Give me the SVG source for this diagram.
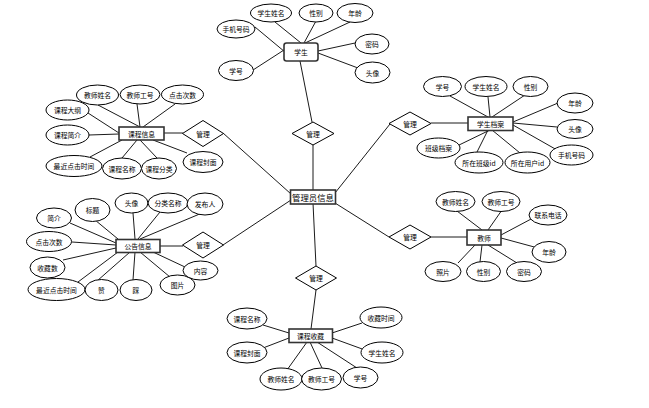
<svg xmlns="http://www.w3.org/2000/svg" width="649" height="408" viewBox="0 0 649 408">
<style>
text{font-family:"Noto Sans CJK SC","Noto Sans",sans-serif;font-size:6.8px;fill:#000;text-anchor:middle;dominant-baseline:central}
ellipse{fill:#fff;stroke:#000;stroke-width:1}
.ent{fill:#fff;stroke:#333;stroke-width:1.6}
.dia{fill:#fff;stroke:#000;stroke-width:1}
#links line{stroke:#000;stroke-width:0.9}
.big{font-size:8.4px}
</style>
<rect width="649" height="408" fill="#fff"/>
<g id="links">
<line x1="313" y1="145" x2="313" y2="190"/>
<line x1="300" y1="61" x2="312" y2="122"/>
<line x1="313" y1="203" x2="316" y2="266"/>
<line x1="316" y1="290" x2="311" y2="329"/>
<line x1="223" y1="133" x2="291" y2="194"/>
<line x1="164" y1="133" x2="183" y2="133"/>
<line x1="223" y1="245" x2="291" y2="200"/>
<line x1="160" y1="246" x2="183" y2="246"/>
<line x1="390" y1="124" x2="335" y2="193"/>
<line x1="431" y1="123" x2="468" y2="123"/>
<line x1="389" y1="237" x2="335" y2="203"/>
<line x1="431" y1="237" x2="467" y2="237"/>
<line x1="275" y1="22" x2="301" y2="43"/>
<line x1="316" y1="21" x2="304" y2="43"/>
<line x1="350" y1="22" x2="305" y2="43"/>
<line x1="255" y1="27" x2="285" y2="52"/>
<line x1="253" y1="70" x2="284" y2="50"/>
<line x1="355" y1="43" x2="318" y2="51"/>
<line x1="358" y1="68" x2="318" y2="53"/>
<line x1="98" y1="105" x2="140" y2="127"/>
<line x1="137" y1="104" x2="140" y2="127"/>
<line x1="175" y1="104" x2="143" y2="127"/>
<line x1="88" y1="113" x2="119" y2="133"/>
<line x1="89" y1="135" x2="119" y2="134"/>
<line x1="90" y1="157" x2="122" y2="140"/>
<line x1="122" y1="158" x2="137" y2="140"/>
<line x1="157" y1="158" x2="140" y2="140"/>
<line x1="187" y1="153" x2="153" y2="140"/>
<line x1="450" y1="96" x2="488" y2="117"/>
<line x1="488" y1="97" x2="490" y2="117"/>
<line x1="525" y1="95" x2="492" y2="117"/>
<line x1="558" y1="103" x2="513" y2="122"/>
<line x1="557" y1="127" x2="513" y2="123"/>
<line x1="557" y1="150" x2="513" y2="125"/>
<line x1="457" y1="146" x2="490" y2="130"/>
<line x1="477" y1="152" x2="488" y2="130"/>
<line x1="520" y1="153" x2="492" y2="130"/>
<line x1="70" y1="223" x2="116" y2="243"/>
<line x1="95" y1="220" x2="118" y2="239"/>
<line x1="133" y1="213" x2="135" y2="239"/>
<line x1="160" y1="212" x2="138" y2="239"/>
<line x1="202" y1="213" x2="140" y2="239"/>
<line x1="72" y1="242" x2="116" y2="245"/>
<line x1="63" y1="260" x2="116" y2="248"/>
<line x1="78" y1="282" x2="118" y2="252"/>
<line x1="97" y1="281" x2="130" y2="252"/>
<line x1="133" y1="280" x2="135" y2="252"/>
<line x1="170" y1="277" x2="140" y2="252"/>
<line x1="185" y1="267" x2="153" y2="252"/>
<line x1="457" y1="211" x2="482" y2="230"/>
<line x1="502" y1="210" x2="488" y2="230"/>
<line x1="533" y1="218" x2="501" y2="235"/>
<line x1="538" y1="248" x2="501" y2="238"/>
<line x1="458" y1="263" x2="475" y2="245"/>
<line x1="480" y1="262" x2="482" y2="245"/>
<line x1="517" y1="263" x2="488" y2="245"/>
<line x1="263" y1="325" x2="289" y2="333"/>
<line x1="263" y1="348" x2="289" y2="338"/>
<line x1="287" y1="370" x2="307" y2="342"/>
<line x1="322" y1="368" x2="310" y2="342"/>
<line x1="357" y1="368" x2="317" y2="342"/>
<line x1="362" y1="323" x2="332" y2="333"/>
<line x1="365" y1="350" x2="332" y2="338"/>
</g>

<g id="admin"><rect class="ent" x="290.5" y="190" width="45" height="14"/><text class="big" x="313" y="197">管理员信息</text></g>

<g id="rel-top"><polygon class="dia" points="313,122 334,133.5 313,145 292,133.5"/><text x="313" y="133.5">管理</text></g>
<g id="rel-bottom"><polygon class="dia" points="316,266 336.5,278 316,290 295.5,278"/><text x="316" y="278">管理</text></g>
<g id="rel-lt"><polygon class="dia" points="203,120.5 223.5,133.5 203,146.5 182.5,133.5"/><text x="203" y="133.5">管理</text></g>
<g id="rel-lb"><polygon class="dia" points="203,232 223.5,245 203,258 182.5,245"/><text x="203" y="245">管理</text></g>
<g id="rel-rt"><polygon class="dia" points="410,112 431,123.5 410,135 389,123.5"/><text x="410" y="123.5">管理</text></g>
<g id="rel-rb"><polygon class="dia" points="410,225 431,237 410,249 389,237"/><text x="410" y="237">管理</text></g>

<g id="student">
<rect class="ent" x="284" y="43" width="34" height="18" rx="2.5"/><text x="301" y="52">学生</text>
<ellipse cx="271" cy="13" rx="20.5" ry="9"/><text x="271" y="13">学生姓名</text>
<ellipse cx="316" cy="13" rx="17" ry="9"/><text x="316" y="13">性别</text>
<ellipse cx="355" cy="13" rx="18" ry="9.5"/><text x="355" y="13">年龄</text>
<ellipse cx="236" cy="29" rx="19" ry="9"/><text x="236" y="29">手机号码</text>
<ellipse cx="236" cy="70.5" rx="17.5" ry="10"/><text x="236" y="70.5">学号</text>
<ellipse cx="372" cy="44" rx="17" ry="10"/><text x="372" y="44">密码</text>
<ellipse cx="372.5" cy="72.5" rx="17.5" ry="10.5"/><text x="372.5" y="72.5">头像</text>
</g>

<g id="course">
<rect class="ent" x="119" y="127" width="45" height="13"/><text x="141.5" y="133.5">课程信息</text>
<ellipse cx="97.5" cy="95" rx="21" ry="10"/><text x="97.5" y="95">教师姓名</text>
<ellipse cx="140" cy="94.5" rx="20" ry="9.5"/><text x="140" y="94.5">教师工号</text>
<ellipse cx="182.5" cy="94.5" rx="21" ry="9.5"/><text x="182.5" y="94.5">点击次数</text>
<ellipse cx="67.5" cy="110" rx="21.5" ry="10"/><text x="67.5" y="110">课程大纲</text>
<ellipse cx="67.5" cy="135" rx="21.5" ry="10"/><text x="67.5" y="135">课程简介</text>
<ellipse cx="74" cy="166" rx="28" ry="10.5"/><text x="74" y="166">最近点击时间</text>
<ellipse cx="122" cy="168.5" rx="19.5" ry="10.5"/><text x="122" y="168.5">课程名称</text>
<ellipse cx="159" cy="168.5" rx="17.5" ry="10.5"/><text x="159" y="168.5">课程分类</text>
<ellipse cx="203" cy="162" rx="20" ry="10.5"/><text x="203" y="162">课程封面</text>
</g>

<g id="record">
<rect class="ent" x="468" y="117" width="45" height="13.5"/><text x="490.5" y="124">学生档案</text>
<ellipse cx="442.5" cy="86.5" rx="19" ry="10"/><text x="442.5" y="86.5">学号</text>
<ellipse cx="486" cy="86.5" rx="21" ry="10"/><text x="486" y="86.5">学生姓名</text>
<ellipse cx="530.5" cy="86.5" rx="17.5" ry="10"/><text x="530.5" y="86.5">性别</text>
<ellipse cx="575" cy="103" rx="18" ry="10"/><text x="575" y="103">年龄</text>
<ellipse cx="575" cy="129" rx="18" ry="9.5"/><text x="575" y="129">头像</text>
<ellipse cx="571.5" cy="155" rx="21.5" ry="10"/><text x="571.5" y="155">手机号码</text>
<ellipse cx="438.5" cy="148" rx="21.5" ry="10"/><text x="438.5" y="148">班级档案</text>
<ellipse cx="479" cy="162.5" rx="24" ry="10.5"/><text x="479" y="162.5">所在班级id</text>
<ellipse cx="527.5" cy="162.5" rx="22.5" ry="10.5"/><text x="527.5" y="162.5">所在用户id</text>
</g>

<g id="notice">
<rect class="ent" x="116" y="239.5" width="44" height="13"/><text x="138" y="246">公告信息</text>
<ellipse cx="54" cy="218" rx="17.5" ry="10"/><text x="54" y="218">简介</text>
<ellipse cx="92.5" cy="210" rx="17.5" ry="11.5"/><text x="92.5" y="210">标题</text>
<ellipse cx="131.5" cy="203" rx="16.5" ry="10"/><text x="131.5" y="203">头像</text>
<ellipse cx="168" cy="203" rx="20" ry="10"/><text x="168" y="203">分类名称</text>
<ellipse cx="205" cy="204" rx="18" ry="11"/><text x="205" y="204">发布人</text>
<ellipse cx="49" cy="241.5" rx="22.5" ry="10"/><text x="49" y="241.5">点击次数</text>
<ellipse cx="47.5" cy="267.5" rx="17.5" ry="10.5"/><text x="47.5" y="267.5">收藏数</text>
<ellipse cx="56.5" cy="289.5" rx="28.5" ry="11"/><text x="56.5" y="289.5">最近点击时间</text>
<ellipse cx="101.5" cy="290" rx="16.5" ry="10.5"/><text x="101.5" y="290">赞</text>
<ellipse cx="136" cy="290" rx="16" ry="10.5"/><text x="136" y="290">踩</text>
<ellipse cx="177.5" cy="285" rx="17.5" ry="10"/><text x="177.5" y="285">图片</text>
<ellipse cx="200.5" cy="270.5" rx="17.5" ry="9.5"/><text x="200.5" y="270.5">内容</text>
</g>

<g id="teacher">
<rect class="ent" x="467" y="230" width="34" height="15"/><text x="484" y="237.5">教师</text>
<ellipse cx="455.5" cy="201.5" rx="19.5" ry="10"/><text x="455.5" y="201.5">教师姓名</text>
<ellipse cx="501" cy="201.5" rx="19" ry="10"/><text x="501" y="201.5">教师工号</text>
<ellipse cx="548" cy="215" rx="19" ry="10"/><text x="548" y="215">联系电话</text>
<ellipse cx="549" cy="252" rx="17" ry="10.5"/><text x="549" y="252">年龄</text>
<ellipse cx="443" cy="271.5" rx="18" ry="10"/><text x="443" y="271.5">照片</text>
<ellipse cx="483.5" cy="271.5" rx="17" ry="10"/><text x="483.5" y="271.5">性别</text>
<ellipse cx="524" cy="271.5" rx="17.5" ry="10"/><text x="524" y="271.5">密码</text>
</g>

<g id="favorite">
<rect class="ent" x="289" y="329" width="43.5" height="13.5"/><text x="310.5" y="335.5">课程收藏</text>
<ellipse cx="247" cy="318.5" rx="20" ry="10.5"/><text x="247" y="318.5">课程名称</text>
<ellipse cx="247" cy="352.5" rx="20" ry="10.5"/><text x="247" y="352.5">课程封面</text>
<ellipse cx="281" cy="379" rx="21" ry="11"/><text x="281" y="379">教师姓名</text>
<ellipse cx="321.5" cy="379" rx="20" ry="11"/><text x="321.5" y="379">教师工号</text>
<ellipse cx="360.5" cy="377.5" rx="17.5" ry="10.5"/><text x="360.5" y="377.5">学号</text>
<ellipse cx="381" cy="317.5" rx="21" ry="10.5"/><text x="381" y="317.5">收藏时间</text>
<ellipse cx="382" cy="352.5" rx="21" ry="10.5"/><text x="382" y="352.5">学生姓名</text>
</g>
</svg>
